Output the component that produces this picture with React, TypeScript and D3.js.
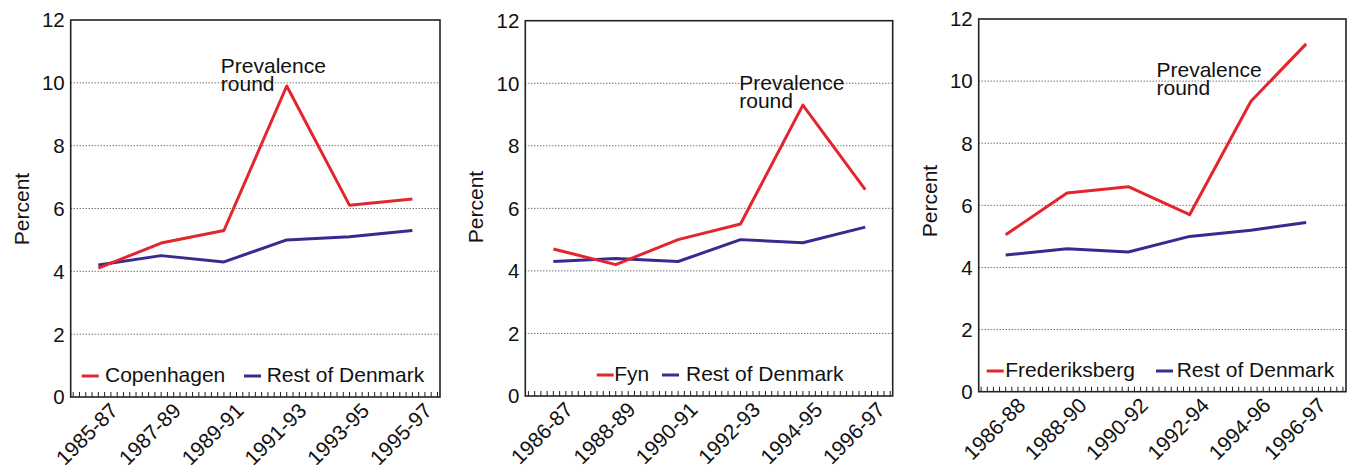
import * as d3 from 'd3';

// values (percent)
const periods1 = ['1985-87', '1987-89', '1989-91', '1991-93', '1993-95', '1995-97'];
const copenhagen = [4.1, 4.9, 5.3, 9.9, 6.1, 6.3];
const restDk1 = [4.2, 4.5, 4.3, 5.0, 5.1, 5.3];

const periods2 = ['1986-87', '1988-89', '1990-91', '1992-93', '1994-95', '1996-97'];
const fyn = [4.7, 4.2, 5.0, 5.5, 9.3, 6.6];
const restDk2 = [4.3, 4.4, 4.3, 5.0, 4.9, 5.4];

const periods3 = ['1986-88', '1988-90', '1990-92', '1992-94', '1994-96', '1996-97'];
// last period is shorter, so it sits a bit closer on the axis
const periods3Pos = [0, 1, 2, 3, 4, 4.9];
const frederiksberg = [5.05, 6.4, 6.6, 5.7, 9.35, 11.2];
const restDk3 = [4.4, 4.6, 4.5, 5.0, 5.2, 5.45];

const yTicks = [0, 2, 4, 6, 8, 10, 12];
const gridTicks = [2, 4, 6, 8, 10];

const RED = '#e3262d';
const PURPLE = '#3c2891';
const FONT = '"Liberation Sans", Arial, Helvetica, sans-serif';

interface PanelProps {
  left: number;
  right: number;
  top: number;
  bottom: number;
  xDomain: [number, number];
  labels: string[];
  xs: number[];
  region: number[];
  rest: number[];
  regionName: string;
  legendX: [number, number, number, number]; // line1, text1, line2, text2
  legendY: number;
  note: [number, number];
  percentY: number;
}

function Panel(p: PanelProps) {
  const x = d3.scaleLinear().domain(p.xDomain).range([p.left, p.right]);
  const y = d3.scaleLinear().domain([0, 12]).range([p.bottom, p.top]);
  const line = d3.line<number>().x((_, i) => x(p.xs[i])).y(d => y(d));
  const minor = d3.range(Math.ceil(p.xDomain[0] * 10), Math.floor(p.xDomain[1] * 10) + 1).map(v => v / 10);

  return (
    <g fontFamily={FONT} fill="#111">
      {gridTicks.map(t => (
        <line key={t} x1={p.left} x2={p.right} y1={y(t)} y2={y(t)}
          stroke="#333" strokeWidth={1} strokeDasharray="1,2" />
      ))}
      {minor.map(v => (
        <line key={v} x1={x(v)} x2={x(v)} y1={p.bottom} y2={p.bottom - 5} stroke="#222" strokeWidth={1} />
      ))}
      <rect x={p.left} y={p.top} width={p.right - p.left} height={p.bottom - p.top}
        fill="none" stroke="#222" strokeWidth={1.6} />

      {yTicks.map(t => (
        <text key={t} x={p.left - 6} y={y(t)} dy="0.36em" textAnchor="end" fontSize={20.5}>{t}</text>
      ))}
      <text transform={`translate(${p.left - 42},${p.percentY}) rotate(-90)`} textAnchor="middle" fontSize={21}>Percent</text>

      {p.labels.map((l, i) => (
        <text key={l} transform={`translate(${x(p.xs[i]) + 21},${p.bottom + 15}) rotate(-45)`}
          textAnchor="end" fontSize={21}>{l}</text>
      ))}

      <path d={line(p.rest) || ''} fill="none" stroke={PURPLE} strokeWidth={3} strokeLinejoin="round" />
      <path d={line(p.region) || ''} fill="none" stroke={RED} strokeWidth={3} strokeLinejoin="round" />

      <text x={x(p.note[0])} y={y(p.note[1])} fontSize={21}>
        <tspan x={x(p.note[0])}>Prevalence</tspan>
        <tspan x={x(p.note[0])} dy={18}>round</tspan>
      </text>

      <line x1={p.legendX[0]} x2={p.legendX[0] + 17} y1={p.legendY - 6} y2={p.legendY - 6} stroke={RED} strokeWidth={3} />
      <text x={p.legendX[1]} y={p.legendY} fontSize={21}>{p.regionName}</text>
      <line x1={p.legendX[2]} x2={p.legendX[2] + 17} y1={p.legendY - 6} y2={p.legendY - 6} stroke={PURPLE} strokeWidth={3} />
      <text x={p.legendX[3]} y={p.legendY} fontSize={21}>Rest of Denmark</text>
    </g>
  );
}

export default function App() {
  return (
    <svg width={1348} height={465} style={{ position: 'absolute', left: 0, top: 0, background: '#fff' }}>
      <Panel left={70.7} right={440} top={20} bottom={397} xDomain={[-0.44, 5.44]}
        labels={periods1} xs={[0, 1, 2, 3, 4, 5]} region={copenhagen} rest={restDk1}
        regionName="Copenhagen" legendX={[81.7, 105, 244, 266.7]} legendY={382}
        note={[1.95, 10.3]} percentY={209} />
      <Panel left={525.3} right={892.7} top={20.7} bottom={396} xDomain={[-0.45, 5.44]}
        labels={periods2} xs={[0, 1, 2, 3, 4, 5]} region={fyn} rest={restDk2}
        regionName="Fyn" legendX={[596.7, 614.3, 662, 686]} legendY={381}
        note={[2.98, 9.78]} percentY={207} />
      <Panel left={978.7} right={1346} top={19} bottom={391.7} xDomain={[-0.44, 5.55]}
        labels={periods3} xs={periods3Pos} region={frederiksberg} rest={restDk3}
        regionName="Frederiksberg" legendX={[986.7, 1005.3, 1156, 1176.7]} legendY={377}
        note={[2.46, 10.12]} percentY={201} />
    </svg>
  );
}
